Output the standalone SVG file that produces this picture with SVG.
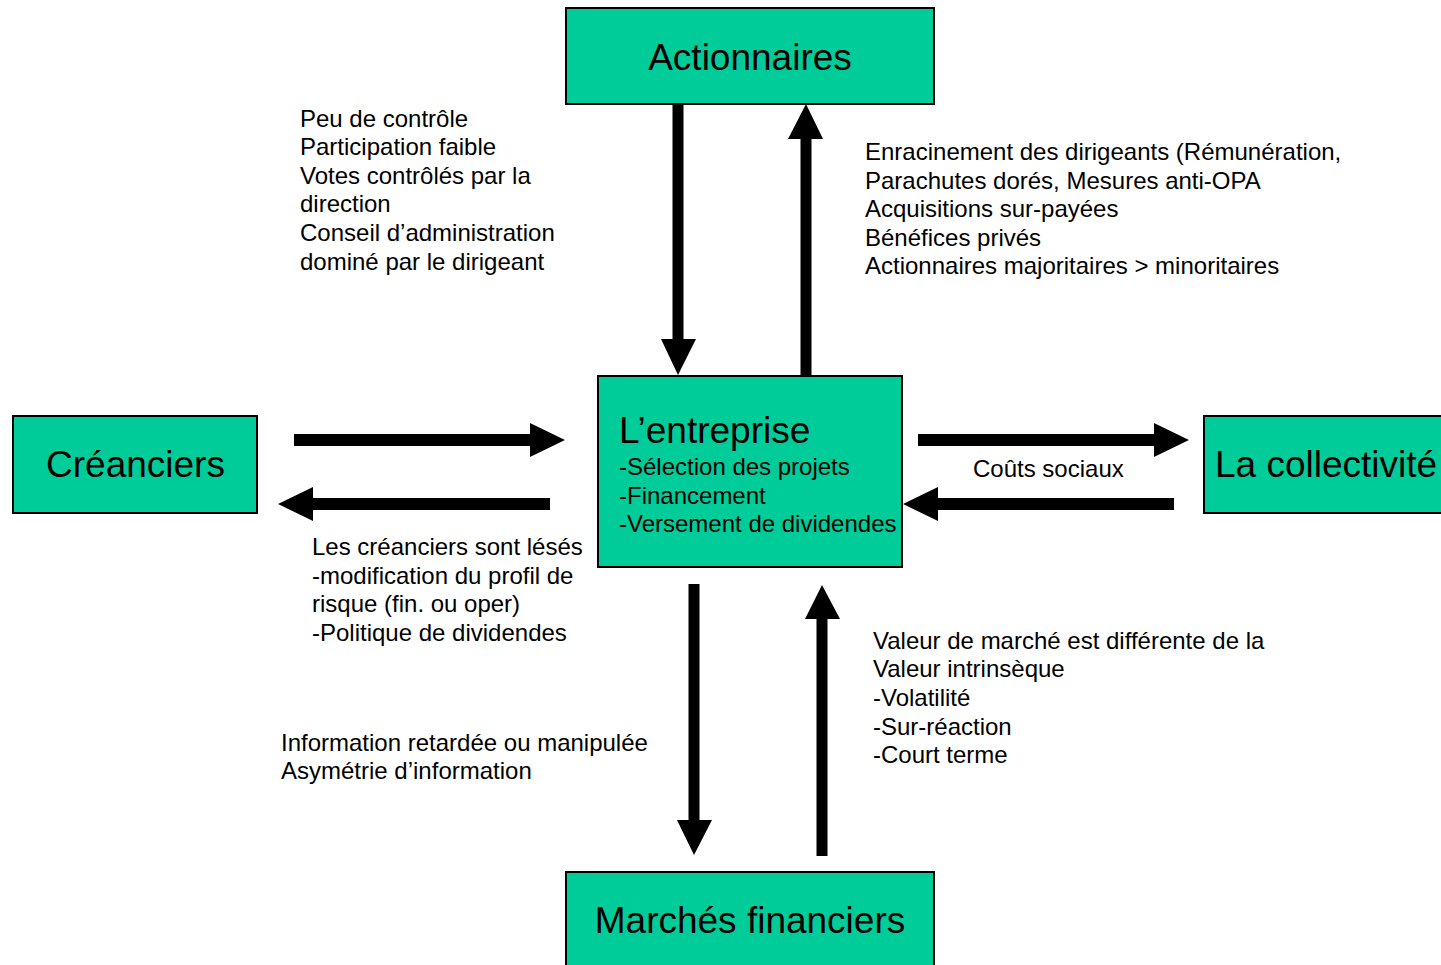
<svg xmlns="http://www.w3.org/2000/svg" width="1441" height="965" viewBox="0 0 1441 965">
<style>
.box{fill:#00CC99;stroke:#000;stroke-width:2}
.big{font-family:"Liberation Sans",Arial,sans-serif;font-size:37px;fill:#000}
.txt{font-family:"Liberation Sans",Arial,sans-serif;font-size:24px;fill:#000}
.arr{fill:#000;stroke:none}
</style>
<rect width="1441" height="965" fill="#fff"/>
<g id="actionnaires">
<rect class="box" x="566" y="8" width="368" height="96"/>
<text class="big" x="750" y="70" text-anchor="middle">Actionnaires</text>
</g>
<g id="entreprise">
<rect class="box" x="598" y="376" width="304" height="191"/>
<text class="big" x="619" y="443">L’entreprise</text>
<text class="txt" x="619" y="475">-Sélection des projets</text>
<text class="txt" x="619" y="503.5">-Financement</text>
<text class="txt" x="619" y="532">-Versement de dividendes</text>
</g>
<g id="creanciers">
<rect class="box" x="13" y="416" width="244" height="97"/>
<text class="big" x="135.5" y="477" text-anchor="middle">Créanciers</text>
</g>
<g id="collectivite">
<rect class="box" x="1204" y="416" width="250" height="97"/>
<text class="big" x="1215" y="477">La collectivité</text>
</g>
<g id="marches">
<rect class="box" x="566" y="872" width="368" height="110"/>
<text class="big" x="750" y="933" text-anchor="middle">Marchés financiers</text>
</g>
<g id="connectors">
<polygon class="arr" points="672.5,104 683.5,104 683.5,339 696,339 678,375 661,339 672.5,339"/>
<polygon class="arr" points="800.5,376 811.5,376 811.5,139 823,139 806,104 788,139 800.5,139"/>
<polygon class="arr" points="294,434 530,434 530,423 565,440 530,457 530,446 294,446"/>
<polygon class="arr" points="550,498 313,498 313,487 278,504 313,521 313,510 550,510"/>
<polygon class="arr" points="918,434 1154,434 1154,423 1189,440 1154,457 1154,446 918,446"/>
<polygon class="arr" points="1174,498 938,498 938,487 903,504 938,521 938,510 1174,510"/>
<polygon class="arr" points="688.5,584 699.5,584 699.5,820 712,820 694,855 677,820 688.5,820"/>
<polygon class="arr" points="816.5,856 827.5,856 827.5,619 840,619 822,585 805,619 816.5,619"/>
</g>
<g id="labels">
<text class="txt" x="300" y="126.5">Peu de contrôle</text>
<text class="txt" x="300" y="155">Participation faible</text>
<text class="txt" x="300" y="183.5">Votes contrôlés par la</text>
<text class="txt" x="300" y="212">direction</text>
<text class="txt" x="300" y="241">Conseil d’administration</text>
<text class="txt" x="300" y="269.5">dominé par le dirigeant</text>
<text class="txt" x="865" y="160">Enracinement des dirigeants (Rémunération,</text>
<text class="txt" x="865" y="188.5">Parachutes dorés, Mesures anti-OPA</text>
<text class="txt" x="865" y="217">Acquisitions sur-payées</text>
<text class="txt" x="865" y="245.5">Bénéfices privés</text>
<text class="txt" x="865" y="274">Actionnaires majoritaires &gt; minoritaires</text>
<text class="txt" x="973" y="477">Coûts sociaux</text>
<text class="txt" x="312" y="555">Les créanciers sont lésés</text>
<text class="txt" x="312" y="583.5">-modification du profil de</text>
<text class="txt" x="312" y="612">risque (fin. ou oper)</text>
<text class="txt" x="312" y="641">-Politique de dividendes</text>
<text class="txt" x="281" y="750.5">Information retardée ou manipulée</text>
<text class="txt" x="281" y="779">Asymétrie d’information</text>
<text class="txt" x="873" y="648.5">Valeur de marché est différente de la</text>
<text class="txt" x="873" y="677">Valeur intrinsèque</text>
<text class="txt" x="873" y="706">-Volatilité</text>
<text class="txt" x="873" y="734.5">-Sur-réaction</text>
<text class="txt" x="873" y="763">-Court terme</text>
</g>
</svg>
